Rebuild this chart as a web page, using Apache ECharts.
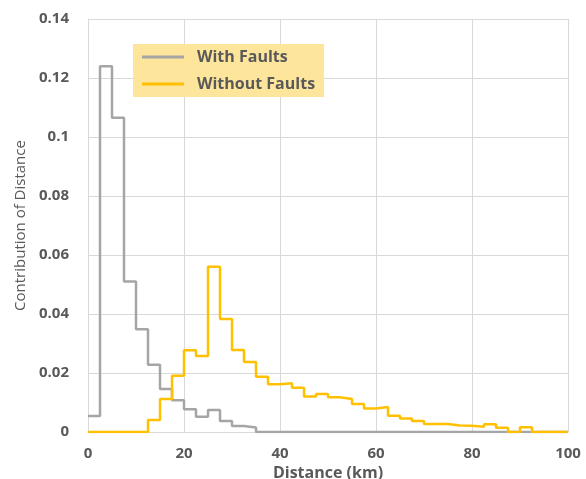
<!DOCTYPE html>
<html>
<head>
<meta charset="utf-8">
<script src="https://cdn.jsdelivr.net/npm/echarts@6/dist/echarts.min.js"></script>
<style>
  html, body { margin: 0; padding: 0; background: #fff; }
  #chart { width: 586px; height: 479px; }
</style>
</head>
<body>
<div id="chart"></div>
<script>
// bin width 2.5 km, left edges from 0 to 97.5
const binWidth = 2.5
const xTicks = [0, 20, 40, 60, 80, 100]
const yTicks = [0, 0.02, 0.04, 0.06, 0.08, 0.1, 0.12, 0.14]

const withFaults = [
  0.0054, 0.124, 0.1065, 0.051, 0.0348, 0.0228, 0.0146, 0.0108, 0.0077, 0.0052,
  0.0075, 0.0037, 0.002, 0.0015, 0, 0, 0, 0, 0, 0,
  0, 0, 0, 0, 0, 0, 0, 0, 0, 0,
  0, 0, 0, 0, 0, 0, 0, 0, 0, 0
]
const withoutFaults = [
  0, 0, 0, 0, 0, 0.0041, 0.0112, 0.0191, 0.0277, 0.0258,
  0.056, 0.0383, 0.0278, 0.0237, 0.0187, 0.0162, 0.0165, 0.015, 0.012, 0.0129,
  0.0118, 0.0112, 0.0095, 0.008, 0.0085, 0.0055, 0.0046, 0.0037, 0.0027, 0.0027,
  0.0022, 0.0021, 0.0018, 0.0026, 0.0014, 0, 0.0016, 0, 0, 0
]

// turn bin values into step points (left edge + closing point at the end)
function toSteps(vals) {
  const pts = vals.map((v, i) => [i * binWidth, v])
  pts.push([vals.length * binWidth, vals[vals.length - 1]])
  return pts
}

const chart = echarts.init(document.getElementById('chart'))
const txt = '#595959'
const font = "'Open Sans', 'DejaVu Sans', sans-serif"
// flat line icon for the legend
const lineIcon = 'path://M0,0L42,0L42,3L0,3Z'

chart.setOption({
  animation: false,
  grid: { left: 88, right: 18, top: 19, bottom: 47, outerBoundsMode: 'none' },
  legend: {
    orient: 'vertical',
    left: 133,
    top: 44,
    backgroundColor: '#fde59b',
    padding: [5, 9, 5, 9],
    itemWidth: 42,
    itemHeight: 16,
    itemGap: 11,
    textStyle: { color: txt, fontSize: 16, fontWeight: 'bold', fontFamily: font, padding: [0, 0, 0, 8] },
    data: [
      { name: 'With Faults', icon: lineIcon },
      { name: 'Without Faults', icon: lineIcon }
    ]
  },
  xAxis: {
    type: 'value',
    min: xTicks[0],
    max: xTicks[xTicks.length - 1],
    interval: 20,
    name: 'Distance (km)',
    nameLocation: 'middle',
    nameGap: 33,
    nameTextStyle: { color: txt, fontSize: 16, fontWeight: 'bold', fontFamily: font },
    axisLine: { show: true, lineStyle: { color: '#d9d9d9', width: 1 } },
    axisTick: { show: false },
    axisLabel: { color: txt, fontSize: 15, fontWeight: 'bold', fontFamily: font, margin: 14 },
    splitLine: { show: true, lineStyle: { color: '#d9d9d9', width: 1 } }
  },
  yAxis: {
    type: 'value',
    min: yTicks[0],
    max: yTicks[yTicks.length - 1],
    interval: 0.02,
    name: 'Contribution of Distance',
    nameLocation: 'middle',
    nameGap: 58,
    nameTextStyle: { color: txt, fontSize: 15, fontFamily: font },
    axisLine: { show: true, lineStyle: { color: '#d9d9d9', width: 1 } },
    axisTick: { show: false },
    axisLabel: {
      color: txt, fontSize: 15, fontWeight: 'bold', fontFamily: font, margin: 19,
      formatter: (v) => String(+v.toFixed(2))
    },
    splitLine: { show: true, lineStyle: { color: '#d9d9d9', width: 1 } }
  },
  series: [
    {
      name: 'With Faults',
      type: 'line',
      step: 'end',
      symbol: 'none',
      color: '#a5a5a5',
      lineStyle: { color: '#a5a5a5', width: 2.5 },
      data: toSteps(withFaults)
    },
    {
      name: 'Without Faults',
      type: 'line',
      step: 'end',
      symbol: 'none',
      color: '#ffc000',
      lineStyle: { color: '#ffc000', width: 2.5 },
      data: toSteps(withoutFaults)
    }
  ]
})
</script>
</body>
</html>
